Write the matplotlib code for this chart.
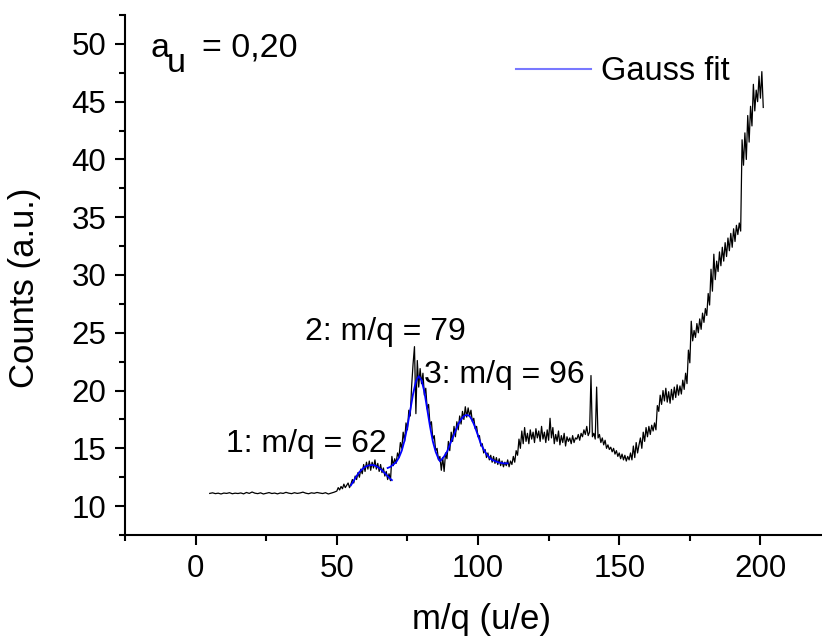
import numpy as np
import matplotlib.pyplot as plt
from matplotlib.ticker import MultipleLocator
from matplotlib.lines import Line2D

plt.rcParams['font.family'] = ['Liberation Sans', 'DejaVu Sans']

# measured spectrum, flat part (step 1) and the rest (step 0.5)
mz_flat = np.arange(5, 50, 1.0)
counts_flat = [11.10, 11.15, 11.08, 11.12, 11.05, 11.13, 11.10, 11.16, 11.07, 11.12,
               11.09, 11.14, 11.06, 11.18, 11.10, 11.22, 11.12, 11.08, 11.15, 11.05,
               11.11, 11.17, 11.09, 11.13, 11.06, 11.14, 11.10, 11.19, 11.12, 11.08,
               11.16, 11.10, 11.14, 11.21, 11.12, 11.07, 11.15, 11.11, 11.18, 11.13,
               11.09, 11.16, 11.05, 11.12, 11.20]

mz = np.arange(50, 201.25, 0.5)
counts = [11.3, 11.6, 11.4, 11.7, 11.5, 11.9, 11.6, 11.8, 12.0, 11.6,
          11.9, 12.3, 12.0, 12.6, 12.3, 12.9, 12.5, 13.2, 12.8, 13.6,
          13.0, 13.8, 13.2, 13.9, 13.1, 13.8, 13.3, 14.0, 13.2, 13.7,
          13.0, 13.6, 12.9, 13.3, 12.6, 13.0, 12.3, 12.8, 12.2, 14.3,
          13.5, 14.1, 13.7, 14.6, 14.2, 15.5, 15.0, 16.4, 15.6, 17.2,
          16.6, 18.3, 17.8, 20.4, 22.3, 23.8, 18.0, 22.6, 20.3, 21.9,
          20.6, 21.5, 19.6, 20.2, 18.4, 18.8, 17.0, 17.3, 15.8, 16.1,
          14.8, 15.0, 14.0, 14.3, 13.1, 14.2, 13.0, 14.6, 14.1, 15.6,
          14.8, 16.4, 15.6, 16.9, 16.0, 17.3, 16.6, 17.8, 17.1, 18.2,
          17.5, 18.6, 17.7, 18.5, 17.8, 18.3, 17.3, 17.6, 16.7, 16.9,
          16.0, 16.1, 15.2, 15.4, 14.6, 14.9, 14.2, 14.6, 14.0, 14.4,
          13.8, 14.3, 13.7, 14.2, 13.6, 14.1, 13.5, 13.9, 13.4, 13.8,
          13.5, 14.0, 13.4, 13.9, 13.6, 14.3, 13.8, 14.8, 14.4, 15.8,
          15.0, 16.5, 15.4, 16.8, 15.6, 16.3, 15.4, 16.6, 15.8, 16.4,
          15.5, 16.7, 15.9, 16.5, 15.6, 16.9, 15.8, 16.4, 15.5, 16.6,
          15.7, 17.6, 15.9, 16.8, 15.4, 16.2, 15.6, 16.5, 15.3, 16.1,
          15.5, 16.3, 15.2, 16.0, 15.6, 15.9, 15.4, 16.1, 15.5, 15.9,
          15.8, 16.2, 15.7, 16.3, 16.0, 16.6, 16.2, 16.9, 16.1, 16.4,
          21.3, 16.0, 16.3, 15.8, 20.3, 15.9, 16.2, 15.5, 15.9, 15.3,
          15.7, 15.0, 15.3, 14.9, 15.1, 14.7, 15.0, 14.5, 14.8, 14.3,
          14.6, 14.1, 14.5, 14.0, 14.4, 13.9, 14.3, 14.0, 14.6, 14.0,
          15.2, 14.2, 15.5, 14.6, 15.3, 15.9, 15.0, 16.4, 15.6, 16.8,
          16.0, 16.9, 16.2, 17.0, 16.5, 17.2, 16.6, 18.7, 18.2, 19.6,
          18.8, 20.0, 19.1, 20.2, 19.0, 19.9, 18.9, 20.1, 19.2, 20.3,
          19.4, 20.5, 19.6, 20.4, 19.7, 20.9, 20.1, 21.5, 20.6, 23.5,
          22.4, 26.0, 24.3, 25.2, 24.6, 25.8, 25.0, 26.2, 25.3, 26.7,
          25.9, 27.1, 26.5, 28.4, 27.4, 30.5, 28.6, 31.8, 29.6, 31.2,
          30.3, 32.0, 30.8, 32.4, 31.2, 32.8, 31.6, 33.2, 32.1, 33.6,
          32.4, 34.0, 32.9, 34.3, 33.5, 34.5, 33.8, 41.7, 39.5, 42.3,
          40.0, 43.8, 41.5, 44.6, 42.9, 46.5, 44.2, 46.0, 45.0, 47.2,
          45.3, 47.6, 44.5]

# gauss fits
fit1_x = [55, 56, 57, 58, 59, 60, 61, 62, 63, 64, 65, 66, 67, 68, 69, 69.5]
fit1_y = [11.8, 12.2, 12.6, 12.95, 13.2, 13.4, 13.5, 13.55, 13.55, 13.45, 13.3, 13.1,
          12.85, 12.6, 12.35, 12.25]
fit2_x = [68, 69, 70, 71, 72, 73, 74, 75, 76, 77, 78, 79, 80, 81, 82, 83, 84, 85, 86, 86.5]
fit2_y = [13.3, 13.4, 13.6, 13.8, 14.2, 14.8, 15.7, 16.9, 18.3, 19.7, 20.8, 21.25,
          20.9, 19.9, 18.4, 16.9, 15.6, 14.7, 14.1, 13.9]
fit3_x = [87, 88, 89, 90, 91, 92, 93, 94, 95, 96, 97, 98, 99, 100, 101, 102, 103,
          104, 105, 106, 107, 108, 109, 110, 110.5]
fit3_y = [14.0, 14.3, 14.7, 15.3, 15.9, 16.5, 17.1, 17.5, 17.8, 17.9, 17.8, 17.4,
          16.8, 16.1, 15.4, 14.9, 14.5, 14.2, 14.0, 13.9, 13.8, 13.75, 13.7, 13.7, 13.7]

peak_labels = ['1: m/q = 62', '2: m/q = 79', '3: m/q = 96']
peak_pos = [(10.6, 14.68), (38.9, 24.37), (80.7, 20.65)]

fig = plt.figure(figsize=(8.22, 6.4), dpi=100)
ax = fig.add_axes([125/822, 1 - 535/640, 697/822, 520/640])

ax.plot(np.concatenate([mz_flat, mz]), counts_flat + counts, color='black', lw=0.9)
for fx, fy in [(fit1_x, fit1_y), (fit2_x, fit2_y), (fit3_x, fit3_y)]:
    ax.plot(fx, fy, color='#0000ff', lw=1.3)

ax.set_xlim(-25, 221.8)
ax.set_ylim(7.5, 52.5)
ax.xaxis.set_major_locator(MultipleLocator(50))
ax.xaxis.set_minor_locator(MultipleLocator(25))
ax.yaxis.set_major_locator(MultipleLocator(5))
ax.yaxis.set_minor_locator(MultipleLocator(2.5))
ax.spines['top'].set_visible(False)
ax.spines['right'].set_visible(False)
for s in ['left', 'bottom']:
    ax.spines[s].set_linewidth(1.5)
ax.tick_params(which='major', direction='out', length=7.5, width=1.5, labelsize=22.5, pad=6)
ax.tick_params(which='minor', direction='out', length=4.5, width=1.5)

for lab, (px, py) in zip(peak_labels, peak_pos):
    ax.text(px, py, lab, fontsize=23, ha='left', va='baseline')

# a_u = 0,20
ax.text(-15.8, 48.9, 'a', fontsize=24.5, ha='left', va='baseline')
ax.text(-10.3, 47.6, 'u', fontsize=24.5, ha='left', va='baseline')
ax.text(2.3, 48.9, '= 0,20', fontsize=24.5, ha='left', va='baseline')

proxy = Line2D([], [], color='#7878ff', lw=1.5)
ax.legend(handles=[proxy], labels=['Gauss fit'], loc='center left',
          bbox_to_anchor=(516/822, 1 - 72/640), bbox_transform=fig.transFigure,
          frameon=False, fontsize=23.5, handlelength=2.3, handletextpad=0.3,
          borderpad=0, borderaxespad=0)

fig.text(24.5/822, 1 - 288/640, 'Counts (a.u.)', rotation=90, fontsize=25,
         ha='center', va='center')
fig.text(481/822, 1 - 619/640, 'm/q (u/e)', fontsize=25, ha='center', va='center')

fig.savefig('out.png', dpi=100)
